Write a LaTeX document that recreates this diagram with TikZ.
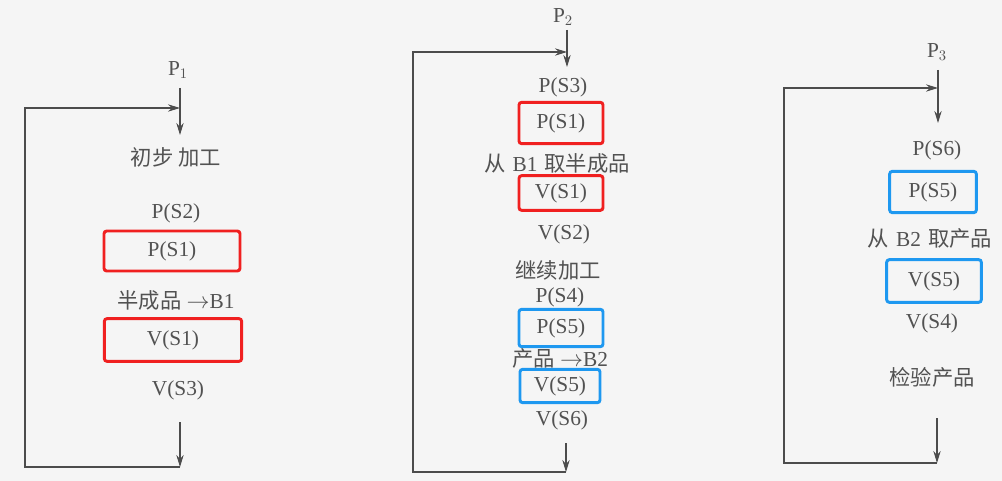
\documentclass[tikz,border=0pt]{standalone}
\usepackage{fontspec}
\usetikzlibrary{arrows.meta}
\setmainfont{Liberation Serif}
\newfontfamily\cjk{Noto Sans CJK SC}
\definecolor{boxred}{RGB}{240,32,32}
\definecolor{boxblue}{RGB}{30,152,240}
\tikzset{
  txt/.style={text=black!68,font=\fontsize{16}{18}\selectfont,inner sep=1pt},
  redbox/.style={txt,draw=boxred,line width=2.2pt,rounded corners=2pt},
  bluebox/.style={txt,draw=boxblue,line width=2.2pt,rounded corners=2pt},
  flow/.style={draw=black!70,line width=0.8pt,-{Stealth[length=9pt,width=5.5pt]}},
}
\begin{document}
\begin{tikzpicture}[x=0.75pt,y=-0.75pt]
        \useasboundingbox (0,0) rectangle (1002,481);
        \fill[black!4] (0,0) rectangle (1002,481);

        % Process P1
        \node[txt] (p1) at (178,70) {P$_1$};
        \node[txt] (work1) at (176,157) {\cjk 初步 加工};
        \node[txt] (ps2a) at (176,213) {P(S2)};
        \node[redbox,minimum width=102pt,minimum height=30pt] (ps1a) at (172,251) {P(S1)};
        \node[txt] (put1) at (176,300) {{\cjk 半成品} $\rightarrow$B1};
        \node[redbox,minimum width=103pt,minimum height=32pt] (vs1a) at (173,340) {V(S1)};
        \node[txt] (vs3a) at (178,390) {V(S3)};
        \coordinate (from1) at (180,88);
        \coordinate (in1) at (180,135);
        \coordinate (top1) at (180,108);
        \coordinate (out1) at (180,422);
        \coordinate (bot1) at (180,467);
        \draw[flow] (from1) -- (in1);
        \draw[flow] (out1) -- (bot1);
        \draw[flow] (bot1) -- (25,467) -- (25,108) -- (top1);

        % Process P2
        \node[txt] (p2) at (563,17) {P$_2$};
        \node[txt] (ps3b) at (563,87) {P(S3)};
        \node[redbox,minimum width=63pt,minimum height=31pt] (ps1b) at (561,123) {P(S1)};
        \node[txt] (get1) at (557,163) {{\cjk 从}\,\,B1\,\,{\cjk 取半成品}};
        \node[redbox,minimum width=63pt,minimum height=26pt] (vs1b) at (561,193) {V(S1)};
        \node[txt] (vs2b) at (564,234) {V(S2)};
        \node[txt] (work2) at (558,270) {\cjk 继续加工};
        \node[txt] (ps4b) at (560,297) {P(S4)};
        \node[bluebox,minimum width=63pt,minimum height=28pt] (ps5b) at (561,328) {P(S5)};
        \node[txt] (put2) at (560,358) {{\cjk 产品} $\rightarrow$B2};
        \node[bluebox,minimum width=60pt,minimum height=25pt] (vs5b) at (560,386) {V(S5)};
        \node[txt] (vs6b) at (562,420) {V(S6)};
        \coordinate (from2) at (567,30);
        \coordinate (in2) at (567,67);
        \coordinate (top2) at (567,52);
        \coordinate (out2) at (566,443);
        \coordinate (bot2) at (566,472);
        \draw[flow] (from2) -- (in2);
        \draw[flow] (out2) -- (bot2);
        \draw[flow] (bot2) -- (413,472) -- (413,52) -- (top2);

        % Process P3
        \node[txt] (p3) at (937,52) {P$_3$};
        \node[txt] (ps6c) at (937,150) {P(S6)};
        \node[bluebox,minimum width=65pt,minimum height=31pt] (ps5c) at (933,192) {P(S5)};
        \node[txt] (get2) at (930,238) {{\cjk 从}\,\,B2\,\,{\cjk 取产品}};
        \node[bluebox,minimum width=71pt,minimum height=32pt] (vs5c) at (934,281) {V(S5)};
        \node[txt] (vs4c) at (932,323) {V(S4)};
        \node[txt] (check) at (932,377) {\cjk 检验产品};
        \coordinate (from3) at (938,70);
        \coordinate (in3) at (938,123);
        \coordinate (top3) at (938,88);
        \coordinate (out3) at (937,418);
        \coordinate (bot3) at (937,463);
        \draw[flow] (from3) -- (in3);
        \draw[flow] (out3) -- (bot3);
        \draw[flow] (bot3) -- (784,463) -- (784,88) -- (top3);
\end{tikzpicture}
\end{document}
